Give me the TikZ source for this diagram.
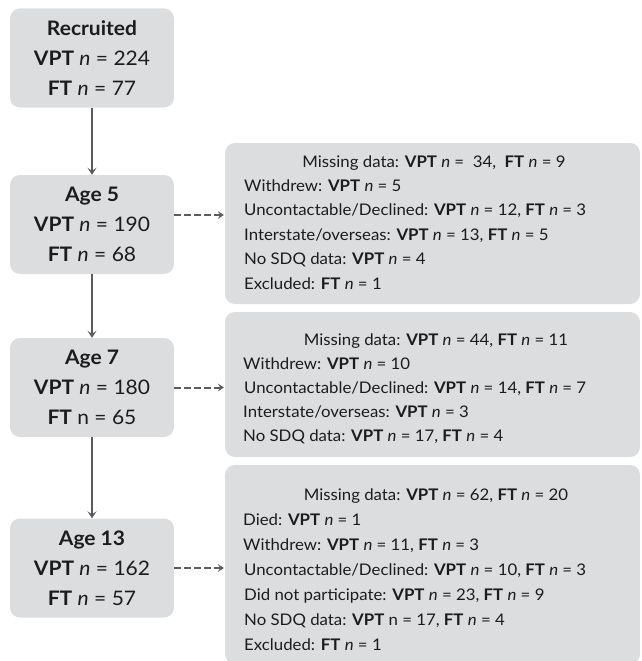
\documentclass[tikz,border=0pt]{standalone}
\usepackage{fontspec}
\setmainfont{Lato}[FakeStretch=1.05]
\usetikzlibrary{arrows.meta}
\definecolor{boxgray}{RGB}{220,221,223}
\definecolor{arrgray}{RGB}{92,92,94}
\definecolor{txt}{RGB}{28,28,30}
\newcommand\ii{\textit{n}}
\begin{document}
\begin{tikzpicture}[x=1pt,y=-1pt,
  leftbox/.style={fill=boxgray, rounded corners=10pt, minimum width=164pt, minimum height=99pt, inner sep=0pt, align=center, text=txt, font=\fontsize{20}{30}\selectfont},
  rightbox/.style={fill=boxgray, rounded corners=10pt, inner sep=0pt, minimum width=415pt},
  lline/.style={anchor=base west, inner sep=0pt, text=txt, font=\fontsize{16}{20}\selectfont},
  cline/.style={anchor=base, inner sep=0pt, text=txt, font=\fontsize{16}{20}\selectfont},
  flow/.style={draw=arrgray, line width=2pt, -{Stealth[length=7pt,width=9pt,inset=3pt]}},
  drop/.style={draw=arrgray, line width=2pt, dash pattern=on 7pt off 3pt, -{Stealth[length=6pt,width=8pt,inset=2.5pt]}}
]
\useasboundingbox (0,0) rectangle (641,661);

% left column
\node[leftbox] (rec) at (92,58) {\textbf{Recruited}\\\textbf{VPT} \ii{} = 224\\\textbf{FT} \ii{} = 77};
\node[leftbox] (age5) at (92,224.5) {\textbf{Age 5}\\\textbf{VPT} \ii{} = 190\\\textbf{FT} \ii{} = 68};
\node[leftbox] (age7) at (92,387.5) {\textbf{Age 7}\\\textbf{VPT} \ii{} = 180\\\textbf{FT} n = 65};
\node[leftbox] (age13) at (92,568) {\textbf{Age 13}\\\textbf{VPT} \ii{} = 162\\\textbf{FT} \ii{} = 57};

% right column boxes
\node[rightbox, minimum height=161pt] (m5) at (432.5,223.5) {};
\node[rightbox, minimum height=145pt] (m7) at (432.5,384.5) {};
\node[rightbox, minimum height=199pt] (m13) at (432.5,564.5) {};

% box 1 text
\node[cline] (m5a) at (434,167) {Missing data: \textbf{VPT} \ii{} = \ 34, \ \textbf{FT} \ii{} = 9};
\node[lline] (m5b) at (244,191.4) {Withdrew: \textbf{VPT} \ii{} = 5};
\node[lline] (m5c) at (244,215.8) {Uncontactable/Declined: \textbf{VPT} \ii{} = 12, \textbf{FT} \ii{} = 3};
\node[lline] (m5d) at (244,240.2) {Interstate/overseas: \textbf{VPT} \ii{} = 13, \textbf{FT} \ii{} = 5};
\node[lline] (m5e) at (244,264.6) {No SDQ data: \textbf{VPT} \ii{} = 4};
\node[lline] (m5f) at (244,289) {Excluded: \textbf{FT} \ii{} = 1};

% box 2 text
\node[cline] (m7a) at (436,345) {Missing data: \textbf{VPT} \ii{} = 44, \textbf{FT} \ii{} = 11};
\node[lline] (m7b) at (243,369.2) {Withdrew: \textbf{VPT} \ii{} = 10};
\node[lline] (m7c) at (244,393.4) {Uncontactable/Declined: \textbf{VPT} \ii{} = 14, \textbf{FT} \ii{} = 7};
\node[lline] (m7d) at (243,417.6) {Interstate/overseas: \textbf{VPT} \ii{} = 3};
\node[lline] (m7e) at (243,441.8) {No SDQ data: \textbf{VPT} \ii{} = 17, \textbf{FT} \ii{} = 4};

% box 3 text
\node[cline] (m13a) at (436,500) {Missing data: \textbf{VPT} \ii{} = 62, \textbf{FT} \ii{} = 20};
\node[lline] (m13b) at (243,525) {Died: \textbf{VPT} \ii{} = 1};
\node[lline] (m13c) at (243,550) {Withdrew: \textbf{VPT} \ii{} = 11, \textbf{FT} \ii{} = 3};
\node[lline] (m13d) at (244,575) {Uncontactable/Declined: \textbf{VPT} \ii{} = 10, \textbf{FT} \ii{} = 3};
\node[lline] (m13e) at (244,600) {Did not participate: \textbf{VPT} \ii{} = 23, \textbf{FT} \ii{} = 9};
\node[lline] (m13f) at (244,625) {No SDQ data: \textbf{VPT} n = 17, \textbf{FT} \ii{} = 4};
\node[lline] (m13g) at (244,650) {Excluded: \textbf{FT} \ii{} = 1};

% connectors
\draw[flow] (rec.south) -- (age5.north);
\draw[flow] (age5.south) -- (age7.north);
\draw[flow] (age7.south) -- (age13.north);

\coordinate (a5) at ([yshift=9.5pt]age5.east);
\draw[drop] (a5) -- ([xshift=-1pt]m5.west |- a5);
\draw[drop] (age7.east) -- ([xshift=-1pt]m7.west |- age7.east);
\draw[drop] (age13.east) -- ([xshift=-1pt]m13.west |- age13.east);
\end{tikzpicture}
\end{document}
